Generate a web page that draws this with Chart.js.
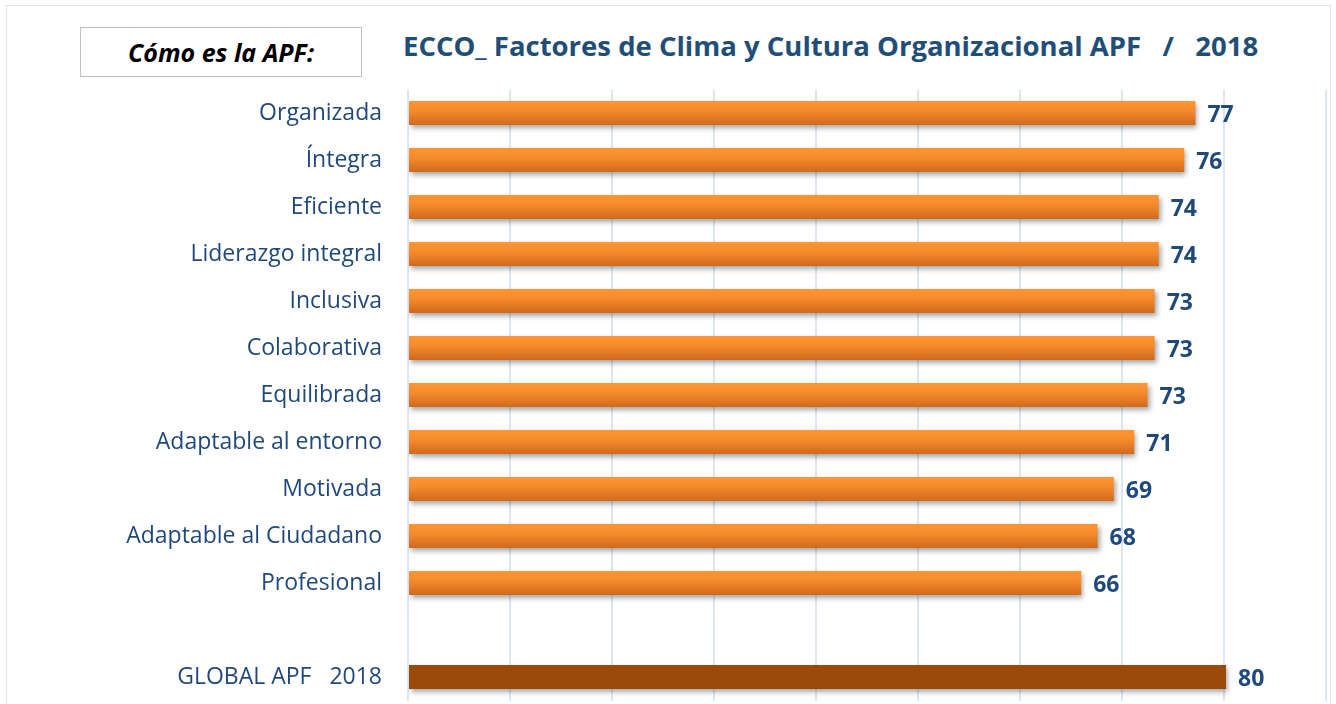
<!DOCTYPE html>
<html>
<head>
<meta charset="utf-8">
<script src="https://cdn.jsdelivr.net/npm/chart.js@4.4.0/dist/chart.umd.min.js"></script>
<style>
  body { margin: 0; background: #fff; overflow: hidden; }
  #wrap { position: relative; width: 1336px; height: 704px; overflow: hidden; }
  #frame { position: absolute; left: 6px; top: 5px; width: 1325px; height: 720px; border: 1px solid #dbe4f1; box-sizing: border-box; }
  #boxTitle { position: absolute; left: 80px; top: 27px; width: 282px; height: 50px; border: 1px solid #bfbfbf; box-sizing: border-box;
    font: italic bold 25px "Open Sans", sans-serif; color: #000; text-align: center; line-height: 48px; }
  #mainTitle { position: absolute; left: 403px; top: 27px; font: bold 27.5px "Open Sans", sans-serif; color: #1f4e79; white-space: pre; }
  canvas { position: absolute; left: 0; top: 0; }
</style>
</head>
<body>
<div id="wrap">
  <div id="frame"></div>
  <div id="boxTitle">Cómo es la APF:</div>
  <div id="mainTitle">ECCO_ Factores de Clima y Cultura Organizacional APF   /   2018</div>
  <canvas id="chart" width="1336" height="704"></canvas>
</div>
<script>
document.addEventListener("DOMContentLoaded", function () {
    // categories (empty one is the gap before the global bar)
    const categories = ["Organizada", "Íntegra", "Eficiente", "Liderazgo integral", "Inclusiva", "Colaborativa",
        "Equilibrada", "Adaptable al entorno", "Motivada", "Adaptable al Ciudadano", "Profesional", "", "GLOBAL APF   2018"];
    const scores = [77.2, 76.1, 73.6, 73.6, 73.2, 73.2, 72.5, 71.2, 69.2, 67.6, 66.0, null, 80.2];
    const xTicks = [0, 10, 20, 30, 40, 50, 60, 70, 80, 90];

    const textBlue = "#1f497d";
    const barPct = 0.51;

    // vertical gradient per bar, built from the y scale positions
    function barColor(context) {
        const chart = context.chart;
        const i = context.dataIndex;
        if (i === categories.length - 1) return "#9a4a08";
        const yScale = chart.scales.y;
        if (!yScale || !chart.chartArea) return "#f7902f";
        const center = yScale.getPixelForValue(i);
        const h = (yScale.getPixelForValue(1) - yScale.getPixelForValue(0)) * barPct;
        const g = chart.ctx.createLinearGradient(0, center - h / 2, 0, center + h / 2);
        g.addColorStop(0, "#ff9632");
        g.addColorStop(0.4, "#f68b2c");
        g.addColorStop(1, "#cf6a1d");
        return g;
    }

    const shadowPlugin = {
        id: "barShadow",
        beforeDatasetDraw(chart) {
            const ctx = chart.ctx;
            ctx.save();
            ctx.shadowColor = "rgba(0,0,0,0.35)";
            ctx.shadowBlur = 5;
            ctx.shadowOffsetX = 2;
            ctx.shadowOffsetY = 3;
        },
        afterDatasetDraw(chart) {
            chart.ctx.restore();
        }
    };

    const valueLabels = {
        id: "valueLabels",
        afterDatasetsDraw(chart) {
            const ctx = chart.ctx;
            const meta = chart.getDatasetMeta(0);
            ctx.save();
            ctx.font = "bold 23px 'Open Sans', sans-serif";
            ctx.fillStyle = textBlue;
            ctx.textAlign = "left";
            ctx.textBaseline = "middle";
            meta.data.forEach((bar, i) => {
                if (scores[i] === null) return;
                ctx.fillText(String(Math.round(scores[i])), bar.x + 12, bar.y + 2);
            });
            ctx.restore();
        }
    };

    new Chart(document.getElementById("chart").getContext("2d"), {
        type: "bar",
        data: {
            labels: categories,
            datasets: [{
                data: scores,
                backgroundColor: barColor,
                borderWidth: 0,
                categoryPercentage: 1,
                barPercentage: barPct
            }]
        },
        plugins: [shadowPlugin, valueLabels],
        options: {
            indexAxis: "y",
            responsive: false,
            animation: false,
            layout: { padding: { top: 89.5, right: 10, bottom: 3.5, left: 0 } },
            plugins: { legend: { display: false }, tooltip: { enabled: false } },
            scales: {
                x: {
                    min: 0,
                    max: 90,
                    afterBuildTicks: scale => { scale.ticks = xTicks.map(v => ({ value: v })); },
                    afterFit: scale => { scale.height = 0; },
                    ticks: { display: false },
                    grid: { color: "#dce6f2", lineWidth: 2, drawTicks: false },
                    border: { display: false }
                },
                y: {
                    // fixed label column; tick padding must not eat the plot height
                    afterFit: scale => { scale.width = 408; scale.paddingTop = 0; scale.paddingBottom = 0; },
                    ticks: {
                        padding: 26,
                        color: textBlue,
                        font: { family: "'Open Sans', sans-serif", size: 23 }
                    },
                    grid: { display: false, drawTicks: false },
                    border: { display: false }
                }
            }
        }
    });
});
</script>
</body>
</html>
